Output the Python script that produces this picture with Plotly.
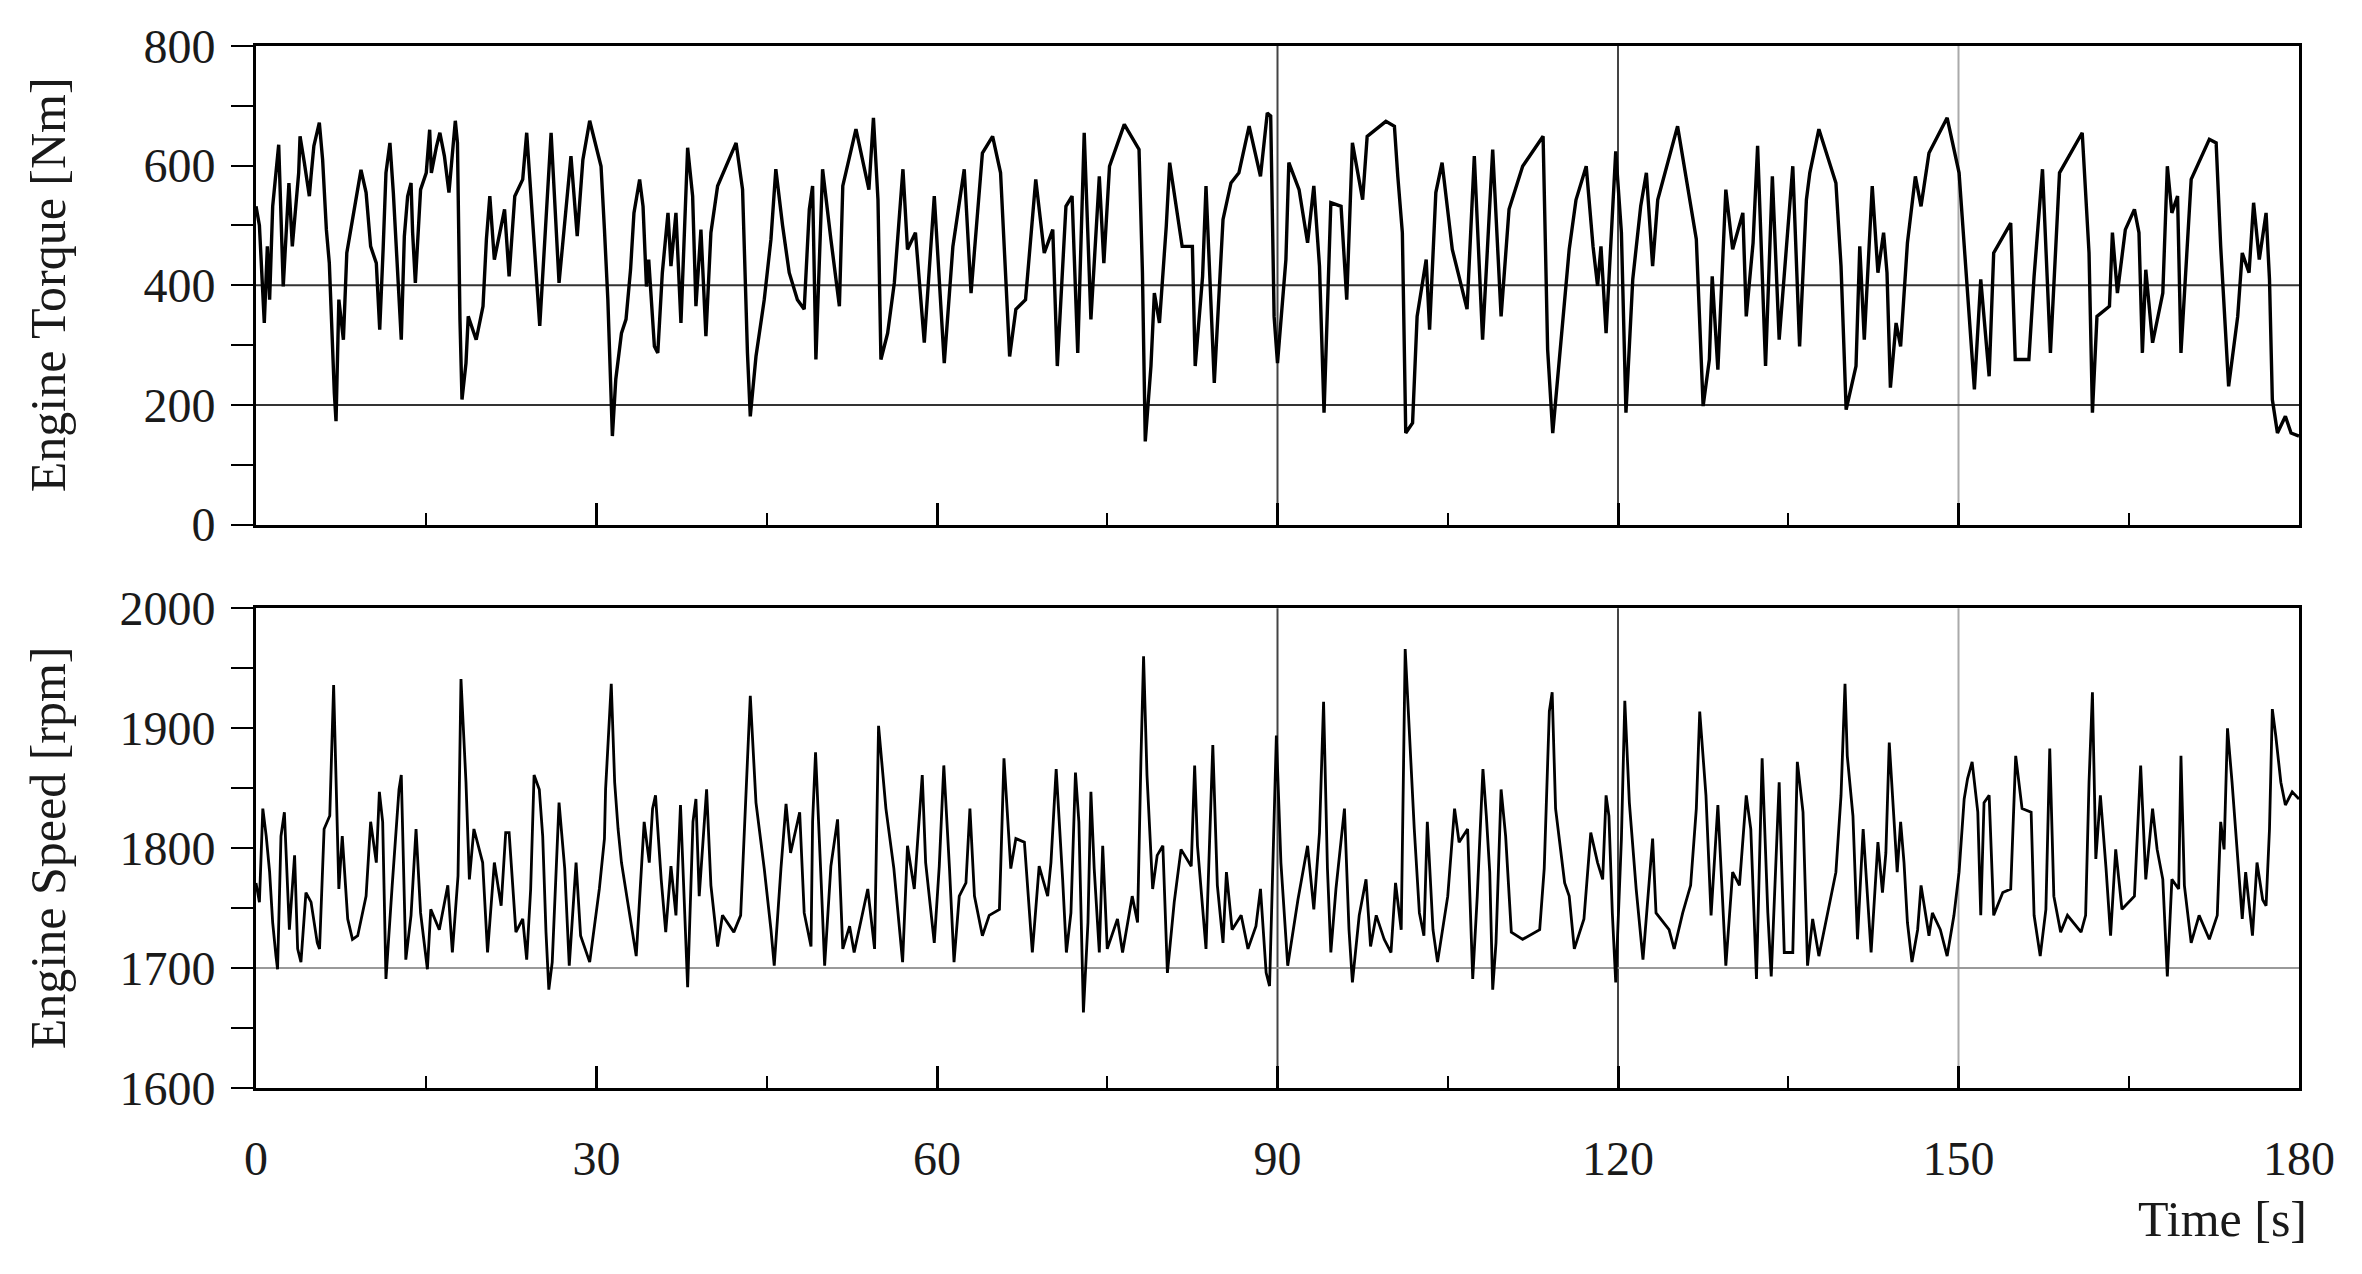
import plotly.graph_objects as go

# ---------------- data ----------------
torque_t = [0, 0.3, 0.73, 1.0, 1.2, 1.47, 2.0, 2.4, 2.9, 3.2, 3.76, 3.88, 4.26, 4.7, 4.85, 5.1, 5.58, 5.87, 6.2, 6.46,
            6.9, 7.05, 7.3, 7.7, 8.0, 8.66, 9.25, 9.7, 10.1, 10.6, 10.9, 11.2, 11.45, 11.8, 12.1, 12.8, 13.07, 13.36, 13.66, 13.8,
            14.04, 14.5, 15.0, 15.3, 15.45, 15.9, 16.2, 16.6, 17.0, 17.56, 17.75, 17.97, 18.15, 18.5, 18.7, 19.4, 20.0, 20.3, 20.6, 21.0,
            21.9, 22.3, 22.8, 23.5, 23.85, 25.0, 26.0, 26.7, 27.2, 27.75, 28.3, 28.8, 29.4, 30.4, 30.7, 31.0, 31.4, 31.7, 32.2, 32.6,
            33.0, 33.3, 33.8, 34.1, 34.4, 34.6, 35.1, 35.4, 35.8, 36.3, 36.56, 37.0, 37.44, 38.03, 38.47, 38.76, 39.2, 39.64, 40.08, 40.67,
            42.3, 42.87, 43.3, 43.55, 44.05, 44.78, 45.37, 45.8, 46.4, 46.98, 47.7, 48.3, 48.75, 49.04, 49.33, 49.92, 50.65, 51.4, 51.7, 52.86,
            54.0, 54.4, 54.8, 55.06, 55.65, 56.24, 57.0, 57.4, 58.1, 58.88, 59.76, 60.64, 61.4, 62.4, 63.0, 64.0, 64.9, 65.6, 66.4, 66.95,
            67.8, 68.7, 69.45, 70.2, 70.6, 71.36, 71.9, 72.4, 72.97, 73.56, 74.3, 74.7, 75.2, 76.5, 77.8, 78.1, 78.35, 78.85, 79.15, 79.6,
            80.2, 80.5, 81.6, 82.5, 82.75, 83.4, 83.7, 84.43, 85.2, 85.9, 86.6, 87.5, 88.5, 89.1, 89.4, 89.7, 90.0, 90.74, 91.0, 91.9,
            92.65, 93.2, 93.7, 94.1, 94.7, 95.6, 96.1, 96.6, 97.5, 97.9, 99.55, 100.3, 100.6, 101.0, 101.3, 101.9, 102.3, 103.1, 103.4, 103.95,
            104.5, 105.4, 105.99, 106.7, 107.34, 108.07, 108.96, 109.7, 110.4, 111.6, 113.4, 113.8, 114.25, 114.8, 115.7, 116.3, 117.2, 117.8, 118.2, 118.5,
            118.95, 119.8, 120.3, 120.7, 121.3, 122.0, 122.5, 123.05, 123.5, 125.25, 126.9, 127.5, 128.05, 128.3, 128.8, 129.5, 130.1, 131.0, 131.3, 131.9,
            132.3, 133.0, 133.6, 134.2, 135.4, 136.0, 136.6, 136.9, 137.7, 139.2, 139.65, 140.1, 140.97, 141.3, 141.7, 142.4, 142.9, 143.4, 143.7, 144.0,
            144.5, 144.9, 145.5, 146.2, 146.7, 147.4, 149.0, 150.05, 150.8, 151.4, 151.96, 152.7, 153.1, 154.6, 155.0, 156.2, 156.66, 157.4, 158.1, 158.9,
            160.9, 161.5, 161.8, 162.2, 163.3, 163.56, 164.0, 164.7, 165.5, 165.9, 166.2, 166.5, 167.1, 168.0, 168.4, 168.8, 169.3, 169.6, 170.5, 172.1,
            172.7, 173.1, 173.8, 174.6, 175.0, 175.6, 176.0, 176.5, 177.1, 177.4, 177.65, 178.1, 178.8, 179.3, 180]
torque_v = [532, 500, 337, 465, 376, 532, 635, 398, 571, 465, 588, 649, 605, 549, 583, 633, 672, 610, 493, 437,
            220, 173, 376, 309, 454, 532, 593, 555, 465, 437, 326, 460, 588, 638, 555, 309, 482, 549, 571, 488,
            404, 560, 588, 660, 588, 632, 655, 616, 555, 675, 638, 343, 209, 270, 348, 309, 365, 477, 549, 443,
            527, 415, 549, 577, 655, 332, 655, 404, 510, 616, 482, 610, 675, 599, 493, 376, 148, 243, 320, 343,
            426, 521, 577, 532, 398, 443, 298, 287, 421, 521, 432, 521, 337, 630, 549, 365, 493, 315, 488, 566,
            638, 560, 287, 181, 281, 376, 477, 594, 499, 421, 376, 360, 527, 566, 276, 594, 477, 365, 566, 661,
            560, 680, 543, 276, 320, 404, 594, 460, 488, 304, 549, 270, 465, 594, 387, 621, 649, 588, 281, 360,
            376, 577, 454, 493, 265, 532, 549, 287, 655, 343, 582, 437, 599, 669, 627, 421, 139, 265, 387, 337,
            499, 605, 465, 465, 265, 415, 566, 237, 510, 571, 588, 666, 582, 688, 683, 348, 270, 443, 605, 560,
            471, 566, 432, 187, 538, 532, 376, 638, 543, 649, 674, 666, 582, 488, 153, 170, 348, 443, 326, 555,
            605, 460, 415, 360, 616, 309, 627, 348, 527, 599, 649, 293, 153, 265, 460, 543, 599, 465, 399, 465,
            320, 624, 488, 187, 410, 532, 588, 432, 543, 666, 477, 198, 276, 415, 259, 560, 460, 521, 348, 471,
            633, 265, 582, 309, 599, 298, 543, 588, 661, 571, 432, 192, 265, 465, 309, 566, 421, 488, 421, 229,
            337, 298, 471, 582, 532, 621, 680, 588, 393, 226, 410, 248, 454, 504, 276, 276, 415, 594, 287, 588,
            655, 454, 187, 348, 365, 488, 387, 493, 527, 488, 287, 426, 304, 387, 599, 521, 549, 287, 577, 644,
            638, 465, 231, 348, 454, 421, 538, 443, 521, 410, 209, 153, 181, 153, 148]

speed_t = [0, 0.3, 0.6, 0.9, 1.2, 1.47, 1.76, 1.9, 2.2, 2.5, 2.94, 3.4, 3.67, 3.96, 4.4, 4.85, 5.4, 5.6, 6.0, 6.5,
           6.84, 7.05, 7.3, 7.6, 8.08, 8.5, 8.96, 9.7, 10.1, 10.6, 10.87, 11.16, 11.45, 12.0, 12.6, 12.8, 13.2, 13.66, 14.1, 14.5,
           15.1, 15.4, 16.15, 16.9, 17.3, 17.8, 18.06, 18.5, 18.8, 19.2, 19.97, 20.4, 21.0, 21.6, 22.0, 22.3, 22.9, 23.5, 23.85, 24.2,
           24.5, 24.96, 25.26, 25.55, 25.8, 26.1, 26.7, 27.2, 27.6, 28.2, 28.6, 29.4, 30.25, 30.7, 30.8, 31.3, 31.6, 31.9, 32.2, 32.75,
           33.5, 34.2, 34.65, 34.94, 35.2, 35.7, 36.1, 36.56, 37.0, 37.4, 37.9, 38.03, 38.5, 38.76, 39.05, 39.7, 40.08, 40.67, 41.1, 42.1,
           42.7, 43.2, 43.55, 44.05, 44.78, 45.37, 45.66, 46.25, 46.7, 47.1, 47.9, 48.3, 48.9, 49.04, 49.3, 49.8, 50.1, 50.65, 51.24, 51.7,
           52.3, 52.7, 53.9, 54.5, 54.85, 55.5, 56.2, 56.97, 57.4, 58.0, 58.7, 59.0, 59.76, 60.2, 60.6, 61.1, 61.5, 61.96, 62.55, 62.9,
           63.3, 64.0, 64.6, 65.5, 65.9, 66.5, 66.95, 67.7, 67.98, 68.4, 69.0, 69.75, 70.04, 70.5, 71.07, 71.4, 71.8, 72.2, 72.5, 72.9,
           73.3, 73.56, 73.85, 74.3, 74.6, 75.0, 75.9, 76.35, 77.2, 77.67, 77.97, 78.2, 78.5, 79.0, 79.4, 79.9, 80.3, 80.9, 81.5, 82.4,
           82.7, 82.95, 83.7, 84.3, 84.7, 85.2, 85.5, 86.0, 86.8, 87.4, 88.1, 88.5, 89.0, 89.3, 89.9, 90.3, 90.9, 91.8, 92.65, 93.2,
           93.7, 94.06, 94.4, 94.7, 95.15, 95.9, 96.3, 96.6, 97.2, 97.8, 98.2, 98.7, 99.4, 100.0, 100.4, 100.9, 101.25, 101.6, 102.05, 102.5,
           102.9, 103.2, 103.7, 104.1, 105.0, 105.6, 106.0, 106.75, 107.2, 107.6, 108.1, 108.4, 108.7, 108.96, 109.25, 109.7, 110.1, 110.6, 111.6, 113.1,
           113.5, 113.95, 114.2, 114.5, 115.3, 115.7, 116.15, 117.0, 117.6, 118.2, 118.65, 118.95, 119.2, 119.5, 119.8, 120.3, 120.6, 121.0, 121.6, 122.2,
           122.8, 123.05, 123.35, 124.5, 124.95, 125.7, 126.4, 126.9, 127.2, 127.75, 128.2, 128.8, 129.5, 130.1, 130.7, 131.3, 131.7, 132.2, 132.7, 133.2,
           133.5, 134.2, 134.65, 135.4, 135.8, 136.3, 136.7, 137.15, 137.7, 138.5, 139.2, 139.65, 140.0, 140.2, 140.7, 141.1, 141.6, 142.3, 142.9, 143.3,
           143.6, 143.9, 144.2, 144.6, 144.9, 145.2, 145.5, 145.9, 146.4, 146.7, 147.4, 147.7, 148.4, 149.0, 149.6, 150.05, 150.5, 150.8, 151.2, 151.7,
           151.96, 152.25, 152.7, 153.1, 153.9, 154.6, 155.04, 155.6, 156.4, 156.66, 157.2, 157.7, 158.04, 158.4, 159.0, 159.6, 160.8, 161.2, 161.5, 161.8,
           162.1, 162.5, 163.0, 163.4, 163.85, 164.4, 165.5, 166.05, 166.5, 167.1, 167.5, 168.0, 168.4, 168.8, 169.4, 169.6, 169.9, 170.5, 171.2, 172.1,
           172.8, 173.1, 173.4, 173.7, 174.1, 174.6, 175.0, 175.3, 175.9, 176.3, 176.8, 177.1, 177.4, 177.65, 177.95, 178.4, 178.8, 179.4, 180]
speed_v = [1771, 1755, 1833, 1810, 1780, 1738, 1710, 1699, 1810, 1830, 1732, 1794, 1716, 1705, 1763, 1755, 1721, 1716, 1816, 1827,
           1936, 1855, 1766, 1810, 1741, 1724, 1727, 1760, 1822, 1788, 1847, 1822, 1691, 1769, 1849, 1861, 1707, 1744, 1816, 1746,
           1699, 1749, 1732, 1769, 1713, 1777, 1941, 1855, 1774, 1816, 1788, 1713, 1788, 1752, 1813, 1813, 1730, 1741, 1707, 1766,
           1861, 1849, 1810, 1730, 1682, 1705, 1838, 1783, 1702, 1788, 1727, 1705, 1766, 1808, 1849, 1937, 1855, 1816, 1788, 1755,
           1710, 1822, 1788, 1833, 1844, 1774, 1730, 1785, 1744, 1836, 1710, 1684, 1822, 1841, 1760, 1849, 1769, 1718, 1744, 1730,
           1744, 1855, 1927, 1838, 1783, 1732, 1702, 1783, 1837, 1796, 1830, 1746, 1718, 1822, 1880, 1771, 1702, 1785, 1824, 1716,
           1735, 1713, 1766, 1716, 1902, 1833, 1783, 1705, 1802, 1766, 1861, 1788, 1721, 1785, 1869, 1783, 1705, 1760, 1771, 1833,
           1760, 1727, 1744, 1749, 1875, 1783, 1808, 1805, 1766, 1713, 1785, 1760, 1788, 1866, 1774, 1713, 1746, 1863, 1822, 1663,
           1738, 1847, 1783, 1713, 1802, 1716, 1741, 1713, 1760, 1738, 1875, 1960, 1861, 1766, 1794, 1802, 1696, 1755, 1799, 1785,
           1869, 1802, 1716, 1886, 1769, 1721, 1780, 1732, 1744, 1716, 1735, 1766, 1696, 1685, 1894, 1788, 1702, 1757, 1802, 1749,
           1813, 1922, 1783, 1713, 1766, 1833, 1732, 1688, 1744, 1774, 1718, 1744, 1724, 1713, 1771, 1732, 1966, 1900, 1816, 1746,
           1727, 1822, 1732, 1705, 1760, 1833, 1805, 1816, 1691, 1760, 1866, 1827, 1780, 1682, 1721, 1849, 1810, 1730, 1724, 1732,
           1783, 1914, 1930, 1833, 1771, 1760, 1716, 1741, 1813, 1788, 1774, 1844, 1827, 1746, 1688, 1808, 1923, 1838, 1766, 1707,
           1777, 1808, 1746, 1732, 1716, 1746, 1769, 1833, 1914, 1844, 1744, 1836, 1702, 1780, 1769, 1844, 1816, 1691, 1875, 1746,
           1693, 1855, 1713, 1713, 1872, 1830, 1702, 1741, 1710, 1749, 1780, 1844, 1937, 1877, 1827, 1724, 1816, 1713, 1805, 1763,
           1796, 1888, 1838, 1780, 1822, 1788, 1738, 1705, 1732, 1769, 1727, 1746, 1732, 1710, 1744, 1780, 1841, 1858, 1872, 1830,
           1744, 1838, 1844, 1744, 1763, 1766, 1877, 1833, 1830, 1744, 1710, 1749, 1883, 1760, 1730, 1744, 1730, 1744, 1855, 1930,
           1791, 1844, 1783, 1727, 1799, 1749, 1760, 1869, 1774, 1833, 1799, 1774, 1693, 1774, 1766, 1877, 1769, 1721, 1744, 1724,
           1744, 1822, 1799, 1900, 1855, 1794, 1741, 1780, 1727, 1788, 1757, 1752, 1816, 1916, 1894, 1855, 1836, 1847, 1841]

time_ticks = [0, 30, 60, 90, 120, 150, 180]
torque_ticks = [0, 200, 400, 600, 800]
speed_ticks = [1600, 1700, 1800, 1900, 2000]
v_grid_times = [90, 120, 150]
v_grid_colors = ["#444444", "#444444", "#aaaaaa"]
torque_grid = [200, 400]
speed_grid = [1700]

FONT = "Liberation Serif"
TXT = "#1a1a1a"

fig = go.Figure()
fig.add_trace(go.Scatter(x=torque_t, y=torque_v, mode="lines",
                         line=dict(color="black", width=3.4), xaxis="x", yaxis="y", showlegend=False))
fig.add_trace(go.Scatter(x=speed_t, y=speed_v, mode="lines",
                         line=dict(color="black", width=2.8), xaxis="x2", yaxis="y2", showlegend=False))

common_x = dict(range=[0, 180], tickvals=time_ticks, showgrid=False, zeroline=False,
                showline=True, linecolor="black", linewidth=3, mirror=True,
                ticks="inside", ticklen=22, tickwidth=3, tickcolor="black",
                minor=dict(tickvals=[15, 45, 75, 105, 135, 165], ticks="inside", ticklen=12,
                           tickwidth=2, tickcolor="black", showgrid=False),
                tickfont=dict(family=FONT, size=48, color=TXT))
common_y = dict(showgrid=False, zeroline=False, showline=True, linecolor="black", linewidth=3,
                mirror=True, ticks="outside", ticklen=22, tickwidth=2, tickcolor="black",
                tickfont=dict(family=FONT, size=48, color=TXT), ticklabelstandoff=6)

# page body adds ~8px offset; compensate in size/margins
fig.update_layout(
    width=2354, height=1266,
    margin=dict(l=248, r=63, t=35, b=186),
    paper_bgcolor="white", plot_bgcolor="white",
    xaxis=dict(**common_x, domain=[0, 1], anchor="y", showticklabels=False),
    yaxis=dict(**common_y, domain=[0.5407, 1], anchor="x", range=[0, 800], tickvals=torque_ticks,
               minor=dict(tickvals=[100, 300, 500, 700], ticks="outside", ticklen=22, tickwidth=2,
                          tickcolor="black", showgrid=False)),
    xaxis2=dict(**common_x, domain=[0, 1], anchor="y2", showticklabels=True, ticklabelstandoff=26),
    yaxis2=dict(**common_y, domain=[0, 0.4603], anchor="x2", range=[1600, 2000], tickvals=speed_ticks,
                minor=dict(tickvals=[1650, 1750, 1850, 1950], ticks="outside", ticklen=22, tickwidth=2,
                           tickcolor="black", showgrid=False)),
)

shapes = []
for xa, ya in (("x", "y"), ("x2", "y2")):
    for t, c in zip(v_grid_times, v_grid_colors):
        shapes.append(dict(type="line", xref=xa, yref=ya + " domain", x0=t, x1=t, y0=0, y1=1,
                           line=dict(color=c, width=2), layer="below"))
for v in torque_grid:
    shapes.append(dict(type="line", xref="x domain", yref="y", x0=0, x1=1, y0=v, y1=v,
                       line=dict(color="#333333", width=2), layer="below"))
for v in speed_grid:
    shapes.append(dict(type="line", xref="x2 domain", yref="y2", x0=0, x1=1, y0=v, y1=v,
                       line=dict(color="#999999", width=2), layer="below"))
fig.update_layout(shapes=shapes)

fig.add_annotation(text="Engine Torque [Nm]", textangle=-90, xref="paper", yref="paper",
                   x=0, y=(0.5407 + 1) / 2, xanchor="center", yanchor="middle", xshift=-208,
                   showarrow=False, font=dict(family=FONT, size=50, color=TXT))
fig.add_annotation(text="Engine Speed [rpm]", textangle=-90, xref="paper", yref="paper",
                   x=0, y=0.4603 / 2, xanchor="center", yanchor="middle", xshift=-208,
                   showarrow=False, font=dict(family=FONT, size=50, color=TXT))
fig.add_annotation(text="Time [s]", xref="paper", yref="paper", x=1, y=0,
                   xanchor="right", yanchor="middle", xshift=10, yshift=-131,
                   showarrow=False, font=dict(family=FONT, size=50, color=TXT))

fig.write_html("out.html")
